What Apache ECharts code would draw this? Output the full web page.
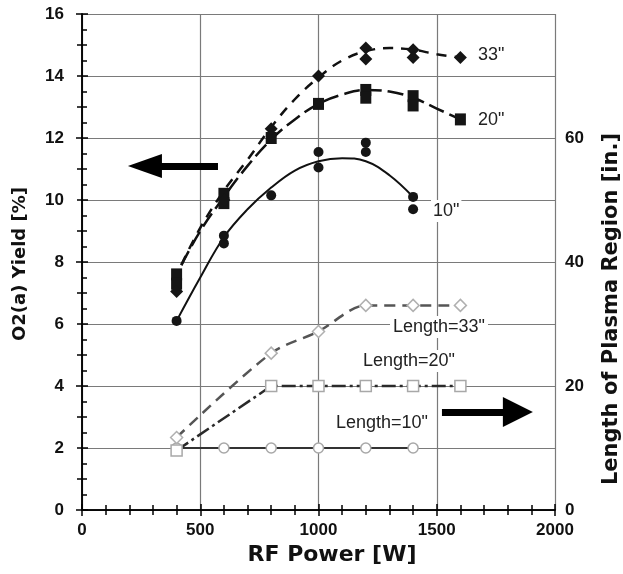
<!DOCTYPE html>
<html><head><meta charset="utf-8">
<script src="https://cdn.jsdelivr.net/npm/echarts@6/dist/echarts.min.js"></script>
<style>html,body{margin:0;padding:0;background:#fff}#c{width:623px;height:574px}</style>
</head><body><div id="c"></div>
<script>
// ---- axes ----
const xRange = [0, 2000], xStep = 500;
const yLeftRange = [0, 16], yLeftStep = 2;
const yRightRange = [0, 80], yRightStep = 20;
const yRightHidden = [80];

// ---- O2(a) yield [%] measured points (left axis) ----
const yield10 = [[400,6.1],[600,8.6],[600,8.85],[800,10.15],[1000,11.55],[1000,11.05],[1200,11.85],[1200,11.55],[1400,10.1],[1400,9.7]];
const yield20 = [[400,7.6],[400,7.3],[600,10.2],[600,9.9],[800,12.0],[1000,13.1],[1200,13.55],[1200,13.3],[1400,13.35],[1400,13.05],[1600,12.6]];
const yield33 = [[400,7.05],[600,10.0],[800,12.3],[1000,14.0],[1200,14.9],[1200,14.55],[1400,14.85],[1400,14.6],[1600,14.6]];

// ---- fitted curves ----
const fit10 = [[400,6.1],[500,7.5],[600,8.8],[700,9.7],[800,10.4],[900,10.95],[1000,11.25],[1100,11.35],[1200,11.25],[1300,10.8],[1400,10.1]];
const fit20 = [[420,7.9],[500,9.0],[600,10.1],[700,11.1],[800,11.95],[900,12.6],[1000,13.1],[1100,13.4],[1200,13.55],[1300,13.5],[1400,13.3],[1500,12.95],[1600,12.6]];
const fit33 = [[420,7.9],[500,9.1],[600,10.3],[700,11.3],[800,12.35],[900,13.25],[1000,13.95],[1100,14.5],[1200,14.8],[1300,14.9],[1400,14.85],[1500,14.7],[1600,14.6]];

// ---- Length of plasma region [in.] (right axis) ----
const len10 = [[400,10],[600,10],[800,10],[1000,10],[1200,10],[1400,10]];
const len20 = [[400,9.6],[800,20],[1000,20],[1200,20],[1400,20],[1600,20]];
const len33 = [[400,11.7],[800,25.3],[1000,28.8],[1200,33],[1400,33],[1600,33]];

// ---- arrows (data coordinates) ----
const arrowLeft = [[575,11.1],[266,11.1]];
const arrowRight = [[1522,15.8],[1843,15.8]];

const tickFont = {fontFamily:'"Liberation Sans", Arial, sans-serif', fontWeight:'bold', fontSize:17, color:'#111'};
const gridColor = '#7a7a7a';
const plain = v => String(v);

const chart = echarts.init(document.getElementById('c'), null, {renderer:'canvas'});

function arrowML(pts, size){
  return {silent:true, symbol:['none','triangle'], symbolSize:[4, size],
    label:{show:false}, emphasis:{disabled:true},
    itemStyle:{color:'#000', opacity:1},
    lineStyle:{color:'#000', width:7, type:'solid', opacity:1},
    data:[[{coord:pts[0]},{coord:pts[1], symbol:'triangle', symbolSize:size}]]};
}

const tick = {show:true, inside:false, length:-6, lineStyle:{color:'#000', width:1.5}};
const minor = (n) => ({show:true, splitNumber:n, length:-5, lineStyle:{color:'#000', width:1.5}});

const option = {
  animation:false,
  backgroundColor:'#fff',
  grid:{left:82, right:68, top:14, bottom:64, outerBoundsMode:'none'},
  xAxis:[{
    type:'value', min:xRange[0], max:xRange[1], interval:xStep, position:'bottom',
    axisLine:{show:true, lineStyle:{color:'#000', width:1.5}},
    axisTick:tick, minorTick:minor(5),
    axisLabel:Object.assign({margin:12, formatter:plain}, tickFont),
    splitLine:{show:true, lineStyle:{color:gridColor, width:1.2}}
  },{
    type:'value', min:xRange[0], max:xRange[1], interval:xStep, position:'top',
    axisLine:{show:true, lineStyle:{color:'#000', width:1.5}},
    axisTick:tick, minorTick:minor(5),
    axisLabel:{show:false}, splitLine:{show:false}
  }],
  yAxis:[{
    type:'value', min:yLeftRange[0], max:yLeftRange[1], interval:yLeftStep, position:'left',
    axisLine:{show:true, lineStyle:{color:'#000', width:1.5}},
    axisTick:tick, minorTick:minor(4),
    axisLabel:Object.assign({margin:18, formatter:plain}, tickFont),
    splitLine:{show:true, lineStyle:{color:gridColor, width:1.2}}
  },{
    type:'value', min:yRightRange[0], max:yRightRange[1], interval:yRightStep, position:'right',
    axisLine:{show:true, lineStyle:{color:'#000', width:1.5}},
    axisTick:tick, minorTick:minor(4),
    axisLabel:Object.assign({margin:10, formatter:v => yRightHidden.includes(v) ? '' : String(v)}, tickFont),
    splitLine:{show:false}
  }],
  series:[
    {type:'line', name:'Length=10"', yAxisIndex:1, data:len10, z:3,
      symbol:'circle', symbolSize:10, showSymbol:true,
      itemStyle:{color:'#fff', borderColor:'#a8a8a8', borderWidth:1.5},
      lineStyle:{color:'#333', width:2, type:'solid'},
      markLine:arrowML(arrowRight, 30)},
    {type:'line', name:'Length=20"', yAxisIndex:1, data:len20, z:3,
      symbol:'rect', symbolSize:11, showSymbol:true,
      itemStyle:{color:'#fff', borderColor:'#a8a8a8', borderWidth:1.5},
      lineStyle:{color:'#2a2a2a', width:2.5, type:[14,4,3,4]}},
    {type:'line', name:'Length=33"', yAxisIndex:1, data:len33, z:3, smooth:0.3,
      symbol:'diamond', symbolSize:12, showSymbol:true,
      itemStyle:{color:'#fff', borderColor:'#b0b0b0', borderWidth:1.5},
      lineStyle:{color:'#555', width:2.5, type:[11,7]}},
    {type:'line', name:'fit10', data:fit10, smooth:0.4, showSymbol:false, z:4,
      lineStyle:{color:'#111', width:2, type:'solid'}},
    {type:'line', name:'fit20', data:fit20, smooth:0.4, showSymbol:false, z:4,
      lineStyle:{color:'#111', width:2.5, type:[16,6]}},
    {type:'line', name:'fit33', data:fit33, smooth:0.4, showSymbol:false, z:4,
      lineStyle:{color:'#111', width:2.5, type:[10,8]}},
    {type:'scatter', name:'10"', data:yield10, symbol:'circle', symbolSize:10, z:5,
      itemStyle:{color:'#151515', opacity:1}, markLine:arrowML(arrowLeft, [24,34])},
    {type:'scatter', name:'20"', data:yield20, symbol:'rect', symbolSize:[11,12], z:5,
      itemStyle:{color:'#151515', opacity:1}},
    {type:'scatter', name:'33"', data:yield33, symbol:'diamond', symbolSize:13, z:5,
      itemStyle:{color:'#151515', opacity:1}}
  ],
  graphic:[
    {type:'text', x:478, y:55, z:100, style:{text:'33"', font:'18px "Liberation Sans", Arial', fill:'#222', align:'left', verticalAlign:'middle'}},
    {type:'text', x:478, y:120, z:100, style:{text:'20"', font:'18px "Liberation Sans", Arial', fill:'#222', align:'left', verticalAlign:'middle'}},
    {type:'text', x:431, y:211, z:100, style:{text:'10"', font:'18px "Liberation Sans", Arial', fill:'#222', align:'left', verticalAlign:'middle', backgroundColor:'#fff', padding:[2,2]}},
    {type:'text', x:439, y:327, z:100, style:{text:'Length=33"', font:'18px "Liberation Sans", Arial', fill:'#222', align:'center', verticalAlign:'middle', backgroundColor:'#fff', padding:[2,3]}},
    {type:'text', x:409, y:361, z:100, style:{text:'Length=20"', font:'18px "Liberation Sans", Arial', fill:'#222', align:'center', verticalAlign:'middle', backgroundColor:'#fff', padding:[2,3]}},
    {type:'text', x:382, y:423, z:100, style:{text:'Length=10"', font:'18px "Liberation Sans", Arial', fill:'#222', align:'center', verticalAlign:'middle', backgroundColor:'#fff', padding:[2,3]}},
    {type:'text', x:20, y:264, rotation:Math.PI/2, z:100, style:{text:'O2(a) Yield [%]', font:'bold 18px "DejaVu Sans"', fill:'#111', align:'center', verticalAlign:'middle'}},
    {type:'text', x:612, y:309, rotation:Math.PI/2, z:100, style:{text:'Length of Plasma Region [in.]', font:'bold 21px "DejaVu Sans"', fill:'#111', align:'center', verticalAlign:'middle'}},
    {type:'text', x:332, y:555, z:100, style:{text:'RF Power [W]', font:'bold 22px "DejaVu Sans"', fill:'#111', align:'center', verticalAlign:'middle'}}
  ]
};
chart.setOption(option);
</script></body></html>
